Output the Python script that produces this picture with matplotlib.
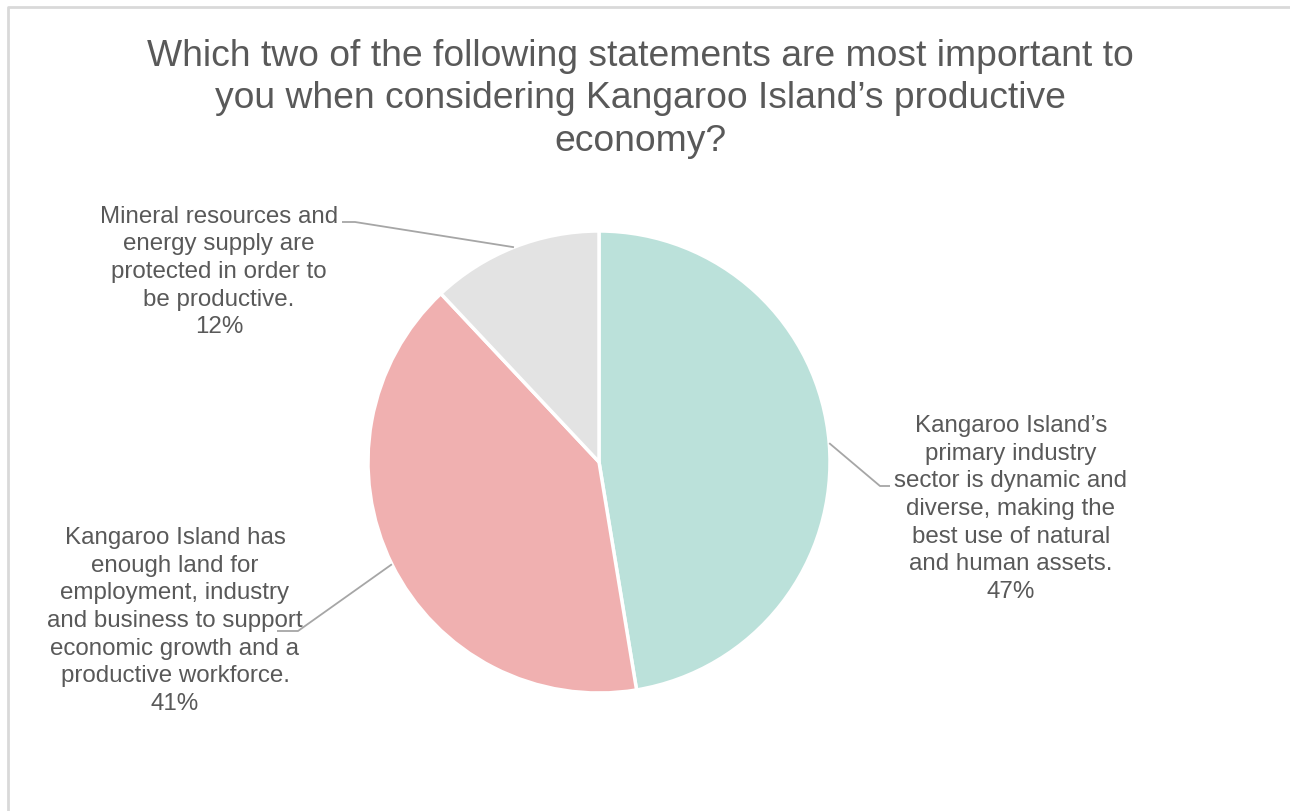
import numpy as np
import matplotlib
matplotlib.use("Agg")
import matplotlib.pyplot as plt

# Survey answer shares (percent)
labels = [
    "Kangaroo Island\u2019s\nprimary industry\nsector is dynamic and\ndiverse, making the\nbest use of natural\nand human assets.",
    "Kangaroo Island has\nenough land for\nemployment, industry\nand business to support\neconomic growth and a\nproductive workforce.",
    "Mineral resources and\nenergy supply are\nprotected in order to\nbe productive.",
]
shares = [47.4, 40.6, 12.0]
colors = ["#BBE1DA", "#F0B0B0", "#E3E3E3"]
title = ("Which two of the following statements are most important to\n"
         "you when considering Kangaroo Island\u2019s productive\neconomy?")

plt.rcParams["font.family"] = ["Liberation Sans", "DejaVu Sans"]
W, H = 1290, 812
fig = plt.figure(figsize=(W / 100, H / 100), dpi=100)
ax = fig.add_axes([0, 0, 1, 1])

cx, cy, r = 599, H - 463, 231
wedges, _ = ax.pie(shares, colors=colors, startangle=90, counterclock=False,
                   center=(cx, cy), radius=r, frame=True,
                   wedgeprops=dict(edgecolor="white", linewidth=2.5))
ax.set_xlim(0, W)
ax.set_ylim(0, H)
ax.set_aspect("equal")
ax.axis("off")

txt = "#595959"
lead = "#A6A6A6"
# label anchors (text centre) and leader elbows, in pixels
label_pos = [(1011, H - 509), (175, H - 621), (219, H - 272)]
elbows = [((880, H - 487), (890, H - 487)),
          ((298, H - 632), (277, H - 632)),
          ((355, H - 223), (342, H - 223))]
for w, lab, val, (lx, ly), (e1, e2) in zip(wedges, labels, shares, label_pos, elbows):
    ang = np.deg2rad((w.theta1 + w.theta2) / 2)
    sx, sy = cx + r * np.cos(ang), cy + r * np.sin(ang)
    ax.plot([sx, e1[0], e2[0]], [sy, e1[1], e2[1]], color=lead, lw=1.3,
            solid_capstyle="butt")
    ax.text(lx, ly, f"{lab}\n{round(val)}%", ha="center", va="center",
            fontsize=17.4, color=txt, linespacing=1.33)

fig.text(0.4965, 1 - 99 / H, title, ha="center", va="center", fontsize=26.8,
         color=txt, linespacing=1.26)

# chart-area border (cropped at right and bottom)
ax.plot([7.5, 7.5, W], [0, H - 7.5, H - 7.5], color="#D9D9D9", lw=2)

fig.savefig("out.png", dpi=100)
